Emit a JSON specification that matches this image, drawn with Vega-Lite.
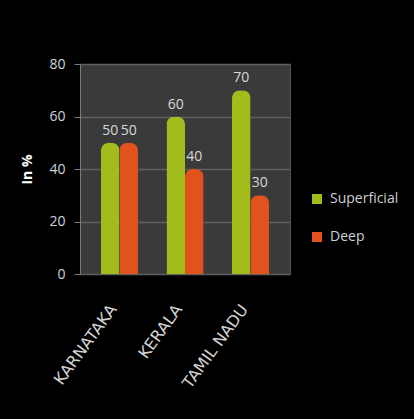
{
  "$schema": "https://vega.github.io/schema/vega-lite/v6.json",
  "background": "black",
  "autosize": {"type": "none"},
  "padding": {"left": 80, "top": 64, "right": 124, "bottom": 145},
  "width": 210,
  "height": 210,
  "config": {
    "font": "Open Sans",
    "view": {"fill": "#3a3a3a", "stroke": "#555555", "strokeWidth": 1}
  },
  "data": {
    "values": [
      {"state": "KARNATAKA", "type": "Superficial", "value": 50},
      {"state": "KARNATAKA", "type": "Deep", "value": 50},
      {"state": "KERALA", "type": "Superficial", "value": 60},
      {"state": "KERALA", "type": "Deep", "value": 40},
      {"state": "TAMIL NADU", "type": "Superficial", "value": 70},
      {"state": "TAMIL NADU", "type": "Deep", "value": 30}
    ]
  },
  "encoding": {
    "x": {
      "field": "state",
      "type": "nominal",
      "sort": ["KARNATAKA", "KERALA", "TAMIL NADU"],
      "scale": {"paddingInner": 0.435, "paddingOuter": 0.32},
      "axis": {
        "title": null,
        "labelAngle": -54,
        "labelAlign": "right",
        "labelBaseline": "middle",
        "labelColor": "#d4d4d4",
        "labelFont": "DejaVu Sans",
        "labelFontSize": 16,
        "labelPadding": 32,
        "labelOffset": -6,
        "domain": false,
        "ticks": false
      }
    },
    "xOffset": {"field": "type", "sort": ["Superficial", "Deep"]},
    "y": {
      "field": "value",
      "type": "quantitative",
      "scale": {"domain": [0, 80]},
      "axis": {
        "title": "In %",
        "titleColor": "white",
        "titleFontWeight": "bold",
        "titleFontSize": 14,
        "titlePadding": 14,
        "values": [0, 20, 40, 60, 80],
        "gridColor": "#5f5f5f",
        "gridWidth": 1.5,
        "labelColor": "#d0d4dc",
        "labelFontSize": 14,
        "labelPadding": 9,
        "domainColor": "#7a7a7a",
        "tickColor": "#7a7a7a",
        "tickSize": 6
      }
    }
  },
  "layer": [
    {
      "mark": {"type": "bar", "cornerRadiusEnd": 8, "cornerRadiusStart": 5},
      "encoding": {
        "color": {
          "field": "type",
          "type": "nominal",
          "scale": {"domain": ["Superficial", "Deep"], "range": ["#a2bc1c", "#e2521d"]},
          "legend": {
            "title": null,
            "orient": "none",
            "legendX": 230,
            "legendY": 128,
            "symbolType": "square",
            "symbolSize": 100,
            "symbolStrokeWidth": 0,
            "labelColor": "#cdd0d8",
            "labelFontSize": 14,
            "labelOffset": 6,
            "rowPadding": 24
          }
        }
      }
    },
    {
      "mark": {"type": "text", "dy": -12, "color": "#d8d8d8", "fontSize": 14},
      "encoding": {"text": {"field": "value", "type": "quantitative"}}
    }
  ]
}
